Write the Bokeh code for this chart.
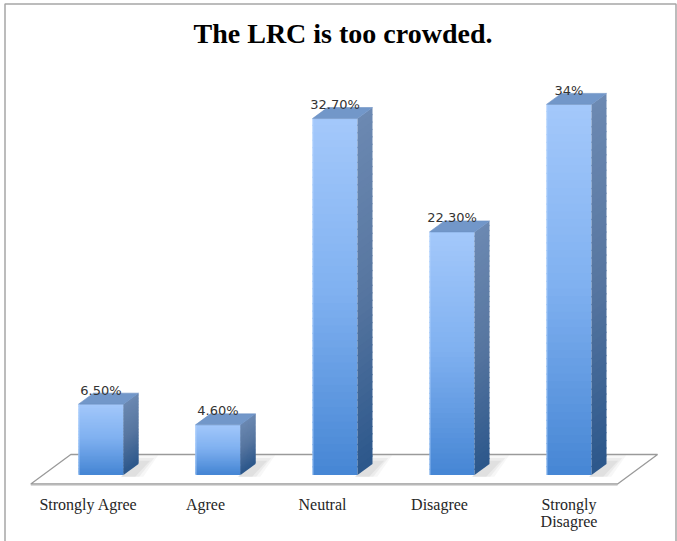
from bokeh.plotting import figure
from bokeh.models import Range1d, Label
from bokeh.core.properties import value
from bokeh.embed import file_html
from bokeh.resources import INLINE

# Survey responses
categories = ["Strongly Agree", "Agree", "Neutral", "Disagree", "Strongly\nDisagree"]
percentages = [6.5, 4.6, 32.7, 22.3, 34.0]
chart_title = "The LRC is too crowded."

W, H = 677, 541

# Layout scale: one category slot spans 117 px, one percent spans 10.9 px
X0_PX, SLOT_PX = 100.5, 117.0
Y0_PX, PCT_PX = 474.5, 10.9


def ux(px):
    return (px - X0_PX) / SLOT_PX


def uy(py):
    return (Y0_PX - py) / PCT_PX


p = figure(width=W, height=H,
           x_range=Range1d(ux(0), ux(W)), y_range=Range1d(uy(H), uy(0)),
           output_backend="svg", toolbar_location=None,
           x_axis_type=None, y_axis_type=None, min_border=0,
           outline_line_color=None, background_fill_color="white",
           border_fill_color="white")
p.grid.visible = False

# 3D box geometry (front half-width and depth offset, in data units)
HALF = 22.5 / SLOT_PX
DX = 15.0 / SLOT_PX
DY = 11.0 / PCT_PX


def mix(stops, t):
    """Interpolate an RGB colour along evenly spaced stops, t in [0, 1]."""
    n = len(stops) - 1
    k = min(int(t * n), n - 1)
    f = t * n - k
    a, b = stops[k], stops[k + 1]
    r, g, bl = (round(a[j] + (b[j] - a[j]) * f) for j in range(3))
    return "#%02x%02x%02x" % (r, g, bl)


FRONT = [(164, 201, 251), (127, 176, 240), (70, 134, 212)]
SIDE = [(108, 137, 178), (87, 118, 160), (44, 87, 139)]
TOP = "#7297c9"

# Floor plane (white parallelogram with grey rim)
n = len(categories)
fl_left, fl_right = -0.5 - 0.1, n - 0.5 - 0.085
fl_depth_x, fl_front, fl_back = 40 / SLOT_PX, uy(483.5), uy(454)
floor_xs = [fl_left, fl_right, fl_right + fl_depth_x, fl_left + fl_depth_x]
floor_ys = [fl_front, fl_front, fl_back, fl_back]
p.patch(floor_xs, floor_ys, fill_color="white", line_color="#9a9a9a", line_width=1.3)
p.line([fl_left, fl_right], [fl_front - 0.12] * 2, line_color="#d0d0d0", line_width=1)

# Soft shadows cast on the floor behind each box
for i in range(n):
    xr = i + HALF
    for k, a in enumerate([0.05, 0.07, 0.09]):
        grow = (2 - k) * 4 / SLOT_PX
        p.patch([xr - 0.02, xr + 0.10 + grow, xr + DX + 0.10 + grow, xr + DX],
                [-0.15, -0.15, DY + 0.3 + (2 - k) * 0.25, DY + 0.3 + (2 - k) * 0.25],
                fill_color="#6a6a6a", fill_alpha=a, line_color=None)

# Boxes: gradient front, darker side, flat top.  Slices overlap by one pixel
# so that no seams show between them.
N_SLICES = 48
OVER = 1.2 / PCT_PX
for i, v in enumerate(percentages):
    xl, xr = i - HALF, i + HALF
    fx0, fx1, fy0, fy1, fc = [], [], [], [], []
    sxs, sys, sc = [], [], []
    for s in range(N_SLICES):
        y1 = v * (1 - s / N_SLICES)
        y0 = v * (1 - (s + 1) / N_SLICES)
        top = min(v, y1 + OVER)
        t = (s + 0.5) / N_SLICES
        fx0.append(xl)
        fx1.append(xr)
        fy0.append(y0)
        fy1.append(top)
        fc.append(mix(FRONT, t))
        sxs.append([xr, xr + DX, xr + DX, xr])
        sys.append([y0, y0 + DY, top + DY, top])
        sc.append(mix(SIDE, t))
    p.quad(left=fx0, right=fx1, bottom=fy0, top=fy1,
           fill_color=fc, line_color=None)
    p.patches(sxs, sys, fill_color=sc, line_color=None)
    p.patch([xl, xr, xr + DX, xl + DX], [v, v, v + DY, v + DY],
            fill_color=TOP, line_color="#6a8fc2", line_width=0.6)
    # faint highlight along the front's left edge
    p.line([xl + 0.004, xl + 0.004], [0, v], line_color="#b8d6ff", line_width=1, alpha=0.7)

# Value labels above each box


def pct_label(v):
    return "%d%%" % v if float(v).is_integer() else "%.2f%%" % v


p.text(x=list(range(n)), y=percentages, text=[pct_label(v) for v in percentages],
       text_align="center", text_baseline="middle", y_offset=-14,
       text_font=value("DejaVu Sans"), text_font_size="13px", text_color="#333333")

# Category labels under the floor (wrapped label is centred on its box)
lx, ly, lt = [], [], []
for i, c in enumerate(categories):
    lines = c.split("\n")
    shift = 0.0 if len(lines) > 1 else -12.5 / SLOT_PX
    for k, line in enumerate(lines):
        lx.append(i + shift)
        ly.append(uy(495 + 17.5 * k))
        lt.append(line)
p.text(x=lx, y=ly, text=lt, text_align="center", text_baseline="top",
       text_font=value("Liberation Serif"), text_font_size="16px", text_color="#262626")

# Chart title
p.add_layout(Label(x=W / 2 + 4, y=H - 33, x_units="screen", y_units="screen",
                   text=chart_title, text_align="center", text_baseline="middle",
                   text_font="Liberation Serif", text_font_style="bold",
                   text_font_size="28px", text_color="#000000"))

# Thin grey frame around the chart area
p.line([ux(4.5), ux(4.5), ux(675.5), ux(675.5)], [uy(H), uy(3.5), uy(3.5), uy(H)],
       line_color="#a6a6a6", line_width=1.5)

open("out.html", "w").write(file_html(p, INLINE))
